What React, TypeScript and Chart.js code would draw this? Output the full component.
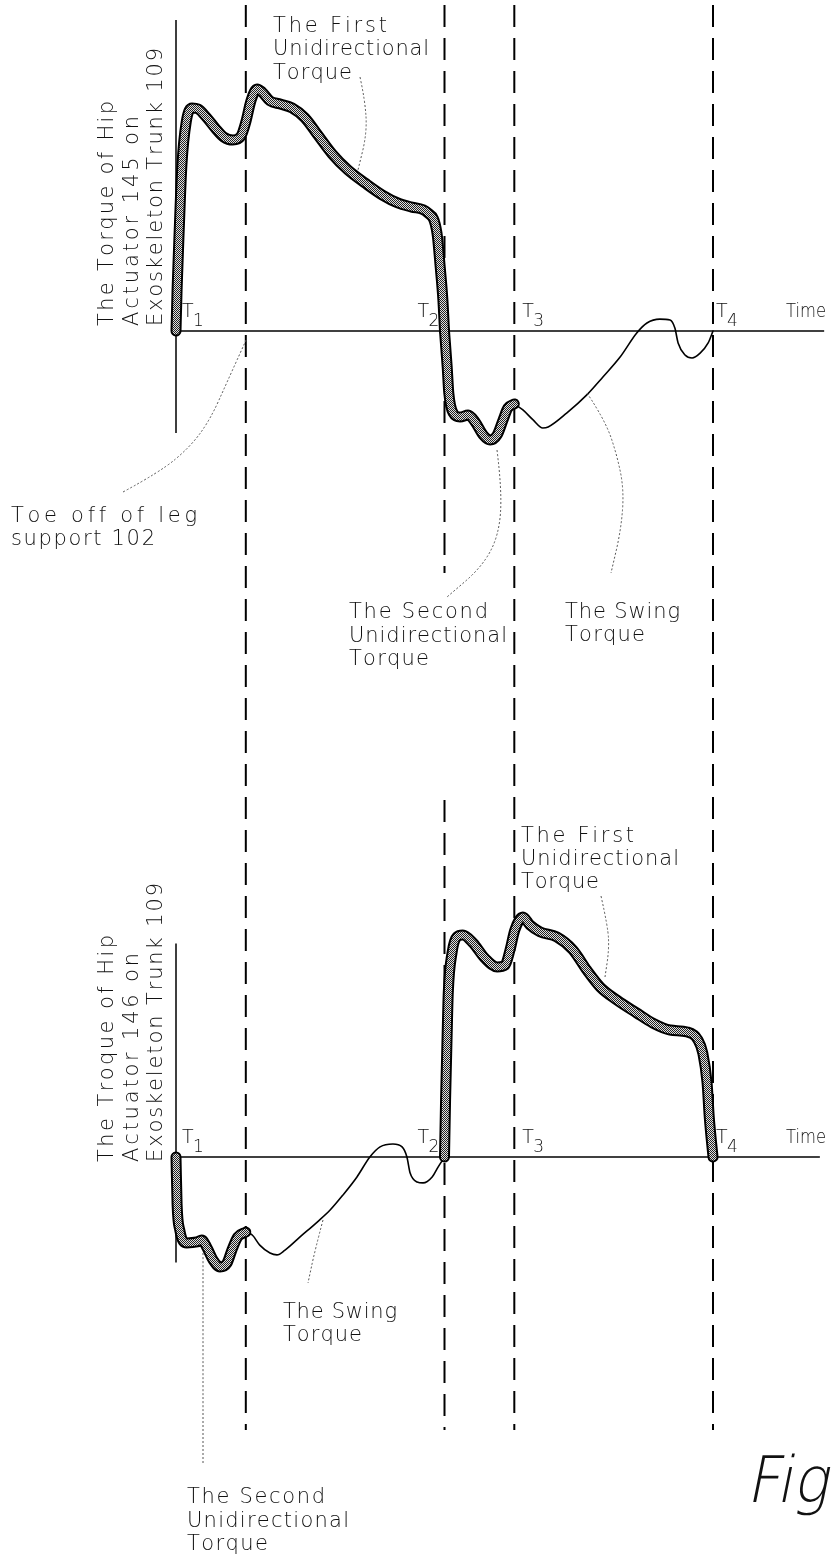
import React, { useEffect, useRef } from "react";
import { Chart, registerables } from "chart.js";

Chart.register(...registerables);

// ---------------- DATA ----------------
// time axis: percent of the gait cycle; events T1..T4 and toe off of leg support 102
const eventNames = ["T", "T", "T", "T"];
const eventSubs = ["1", "2", "3", "4"];
const eventTimes = [0, 50, 63, 100];
const toeOffTime = 13;

// top chart: torque of hip actuator 145 (normalised torque units)
const topFirstT = [0, 0.2, 0.6, 1.1, 1.9, 3.0, 4.1, 5.6, 7.3, 8.9, 10.6, 12.1, 13.0, 14.0, 15.1, 16.0, 17.5, 19.4, 21.6, 24.0, 26.4, 29.1, 32.0, 35.2, 38.4, 41.3, 43.9, 46.9, 48.6, 49.2, 49.7, 50];
const topFirstV = [0, 16.9, 41.6, 68.3, 86.0, 91.8, 91.4, 88.1, 83.5, 79.8, 78.6, 80.2, 86.0, 95.1, 99.6, 98.4, 94.7, 93.4, 91.8, 87.7, 80.7, 72.8, 66.3, 60.9, 56.0, 52.7, 51.0, 48.6, 40.3, 26.3, 12.8, 0];
const topSecondT = [50, 50.5, 50.8, 51.6, 52.9, 54.4, 55.7, 57.2, 58.5, 59.8, 60.9, 61.8, 63];
const topSecondV = [0, -14.8, -25.5, -33.7, -35.4, -34.6, -37.4, -42.8, -44.9, -42.8, -36.6, -31.7, -30.0];
const topSwingT = [63, 64.6, 66.5, 68.3, 69.3, 72.8, 76.5, 79.5, 82.7, 85.8, 87.7, 90.1, 92.0, 92.9, 93.5, 94.8, 96.1, 97.6, 99.1, 100];
const topSwingV = [-30.0, -32.5, -36.6, -39.9, -39.5, -33.7, -26.3, -18.9, -10.7, -0.8, 3.3, 4.9, 4.5, 1.2, -4.9, -9.9, -11.1, -9.1, -4.9, 0];

// bottom chart: torque of hip actuator 146
const botSecondT = [0, 0.2, 0.7, 2.0, 3.9, 4.8, 5.8, 6.9, 8.2, 9.5, 10.4, 11.5, 13.0];
const botSecondV = [0, -19.6, -30.4, -35.8, -35.4, -34.6, -37.9, -42.9, -45.8, -44.2, -38.8, -33.3, -31.3];
const botSwingT = [13.0, 14.2, 15.6, 17.5, 18.8, 20.3, 23.1, 26.3, 28.7, 31.1, 33.7, 36.1, 38.0, 40.4, 42.1, 43.0, 43.6, 44.9, 46.0, 47.7, 48.8, 50];
const botSwingV = [-31.3, -32.5, -36.7, -40.0, -40.8, -38.8, -33.3, -27.1, -22.1, -15.8, -8.3, 0, 4.2, 5.4, 4.2, 0, -6.7, -10.4, -10.8, -8.3, -4.2, 0];
const botFirstT = [50, 50.2, 50.5, 50.7, 51.4, 52.3, 53.4, 55.3, 57.5, 59.8, 61.3, 62.2, 63.1, 64.6, 65.9, 67.8, 70.9, 73.9, 76.5, 79.0, 82.1, 85.8, 88.8, 92.0, 95.2, 97.2, 98.1, 98.9, 99.3, 100];
const botFirstV = [0, 23.8, 51.7, 68.3, 85.0, 91.7, 92.5, 89.2, 82.9, 79.2, 80.0, 86.3, 94.6, 100, 96.7, 93.8, 91.7, 86.3, 77.9, 70.8, 65.4, 60.0, 55.8, 52.9, 52.1, 48.8, 43.3, 30.8, 16.7, 0];

// axis extents (data units)
const topAxisRange = [-42, 128];
const botAxisRange = [-44, 89];
const timeAxisEndTop = 120.7;
const timeAxisEndBot = 119.9;

// texts
const topYTitle = ["The Torque of Hip", "Actuator 145 on", "Exoskeleton Trunk 109"];
const botYTitle = ["The Troque of Hip", "Actuator 146 on", "Exoskeleton Trunk 109"];
const firstLabel = ["The First", "Unidirectional", "Torque"];
const secondLabel = ["The Second", "Unidirectional", "Torque"];
const swingLabel = ["The Swing", "Torque"];
const toeOffLabel = ["Toe off of leg", "support 102"];
const timeLabel = "Time";
const figLabel = "Fig";

// ---------------- LAYOUT ----------------
const W = 832;
const H = 1560;
const X0 = 176;
const PX_T = 5.37;
const TOP_ZERO = 331;
const TOP_PX_V = 2.43;
const BOT_ZERO = 1157;
const BOT_PX_V = 2.4;
const DASH_TOP = 5;
const DASH_BOTTOM = 1430;
const T2_GAP = [573, 800];
const TEXT_COLOR = "#111";
const FONT_FAMILY = '"DejaVu Sans", sans-serif';
const FONT_WEIGHT = "200";

const textBlocks = [
  { lines: firstLabel, x: 273, y: [32, 55, 79], w: [114, 156, 79] },
  { lines: toeOffLabel, x: 11, y: [522, 545], w: [186, 144] },
  { lines: secondLabel, x: 349, y: [618, 642, 665], w: [139, 158, 80] },
  { lines: swingLabel, x: 565, y: [618, 641], w: [115, 80] },
  { lines: firstLabel, x: 521, y: [842, 865, 888], w: [113, 158, 78] },
  { lines: swingLabel, x: 283, y: [1318, 1341], w: [114, 79] },
  { lines: secondLabel, x: 187, y: [1503, 1527, 1550], w: [138, 162, 81] },
];

const yTitles = [
  { lines: topYTitle, x: [113, 138, 162], y0: 326, w: [225, 210, 278] },
  { lines: botYTitle, x: [113, 138, 162], y0: 1162, w: [227, 209, 279] },
];

const leaders = [
  [[360, 77], [365, 100], [367, 133], [358, 170]],
  [[123, 492], [160, 472], [190, 447], [210, 420], [228, 380], [247, 338]],
  [[497, 450], [502, 490], [499, 535], [482, 567], [447, 597]],
  [[587, 393], [605, 420], [617, 455], [624, 490], [621, 530], [611, 573]],
  [[601, 896], [608, 927], [609, 950], [605, 977]],
  [[323, 1220], [315, 1250], [308, 1283]],
  [[203, 1253], [203, 1360], [203, 1465]],
];

const tOffsets = [6, -27, 8, 3];

const pts = (ts: number[], vs: number[]) => ts.map((t, i) => ({ x: t, y: vs[i] }));

function fitText(ctx: CanvasRenderingContext2D, text: string, x: number, y: number, width: number) {
  const chars = Array.from(text);
  const widths = chars.map((c) => ctx.measureText(c).width);
  const natural = widths.reduce((a, b) => a + b, 0);
  const ls = chars.length > 1 ? (width - natural) / (chars.length - 1) : 0;
  if (ls < 0) {
    ctx.fillText(text, x, y, width);
    return;
  }
  let cx = x;
  chars.forEach((c, i) => {
    ctx.fillText(c, cx, y);
    cx += widths[i] + ls;
  });
}

function smoothPath(ctx: CanvasRenderingContext2D, p: number[][]) {
  ctx.beginPath();
  ctx.moveTo(p[0][0], p[0][1]);
  for (let i = 1; i < p.length - 1; i++) {
    const mx = (p[i][0] + p[i + 1][0]) / 2;
    const my = (p[i][1] + p[i + 1][1]) / 2;
    ctx.quadraticCurveTo(p[i][0], p[i][1], mx, my);
  }
  const l = p[p.length - 1];
  ctx.lineTo(l[0], l[1]);
  ctx.stroke();
}

export default function App() {
  const ref = useRef<HTMLCanvasElement | null>(null);

  useEffect(() => {
    const canvas = ref.current;
    if (!canvas) return;
    const ctx0 = canvas.getContext("2d")!;

    const pc = document.createElement("canvas");
    pc.width = 2;
    pc.height = 2;
    const pctx = pc.getContext("2d")!;
    pctx.fillStyle = "#222";
    pctx.fillRect(0, 0, 2, 2);
    pctx.fillStyle = "#e0e0e0";
    pctx.fillRect(1, 0, 1, 1);
    pctx.fillRect(0, 1, 1, 1);
    const pattern = ctx0.createPattern(pc, "repeat")!;

    const base = {
      pointRadius: 0,
      fill: false,
      cubicInterpolationMode: "monotone",
      borderCapStyle: "round",
      borderJoinStyle: "round",
    };
    const thin = (data: any[], yAxisID: string) => ({ ...base, data, yAxisID, order: 8, borderColor: "#000", borderWidth: 1.6 });
    const thickOuter = (data: any[], yAxisID: string) => ({ ...base, data, yAxisID, order: 5, borderColor: "#000", borderWidth: 11 });
    const thickInner = (data: any[], yAxisID: string) => ({ ...base, data, yAxisID, order: 1, borderColor: pattern, borderWidth: 7 });
    const lineAxis = (data: any[], yAxisID: string) => ({
      data,
      yAxisID,
      order: 20,
      borderColor: "#000",
      borderWidth: 1.5,
      pointRadius: 0,
      fill: false,
      tension: 0,
    });

    const topFirst = pts(topFirstT, topFirstV);
    const topSecond = pts(topSecondT, topSecondV);
    const topSwing = pts(topSwingT, topSwingV);
    const botSecond = pts(botSecondT, botSecondV);
    const botSwing = pts(botSwingT, botSwingV);
    const botFirst = pts(botFirstT, botFirstV);

    const eventLines = [toeOffTime, eventTimes[1], eventTimes[2], eventTimes[3]];

    const decorPlugin = {
      id: "decor",
      beforeDatasetsDraw(chart: any) {
        const ctx: CanvasRenderingContext2D = chart.ctx;
        const xs = chart.scales.x;
        ctx.save();
        ctx.strokeStyle = "#000";
        ctx.lineWidth = 2;
        ctx.setLineDash([22, 11]);
        eventLines.forEach((t) => {
          const px = xs.getPixelForValue(t);
          const segs =
            t === eventTimes[1]
              ? [
                  [DASH_TOP, T2_GAP[0]],
                  [T2_GAP[1], DASH_BOTTOM],
                ]
              : [[DASH_TOP, DASH_BOTTOM]];
          segs.forEach(([a, b]) => {
            ctx.beginPath();
            ctx.moveTo(px, a);
            ctx.lineTo(px, b);
            ctx.stroke();
          });
        });
        ctx.restore();
      },
      afterDatasetsDraw(chart: any) {
        const ctx: CanvasRenderingContext2D = chart.ctx;
        const xs = chart.scales.x;
        const yT = chart.scales.yTop;
        const yB = chart.scales.yBot;
        ctx.save();

        // leaders
        ctx.strokeStyle = "#555";
        ctx.lineWidth = 1;
        ctx.setLineDash([2, 2]);
        leaders.forEach((l) => smoothPath(ctx, l));
        ctx.setLineDash([]);

        ctx.fillStyle = TEXT_COLOR;
        ctx.textBaseline = "alphabetic";
        ctx.textAlign = "left";

        // text blocks
        ctx.font = `${FONT_WEIGHT} 21px ${FONT_FAMILY}`;
        textBlocks.forEach((b) => {
          b.lines.forEach((s, i) => fitText(ctx, s, b.x, b.y[i], b.w[i]));
        });

        // rotated y titles
        yTitles.forEach((b) => {
          b.lines.forEach((s, i) => {
            ctx.save();
            ctx.translate(b.x[i], b.y0);
            ctx.rotate(-Math.PI / 2);
            fitText(ctx, s, 0, 0, b.w[i]);
            ctx.restore();
          });
        });

        // event labels and "Time"
        [yT.getPixelForValue(0), yB.getPixelForValue(0)].forEach((zy) => {
          eventTimes.forEach((t, i) => {
            const px = xs.getPixelForValue(t) + tOffsets[i];
            ctx.font = `${FONT_WEIGHT} 19px ${FONT_FAMILY}`;
            ctx.fillText(eventNames[i], px, zy - 14);
            ctx.font = `${FONT_WEIGHT} 17px ${FONT_FAMILY}`;
            ctx.fillText(eventSubs[i], px + 11, zy - 5);
          });
          ctx.font = `${FONT_WEIGHT} 20px ${FONT_FAMILY}`;
          fitText(ctx, timeLabel, 786, zy - 14, 40);
        });

        // Fig (thin, slanted)
        ctx.save();
        ctx.font = `${FONT_WEIGHT} 64px ${FONT_FAMILY}`;
        ctx.translate(0, 1502);
        ctx.transform(1, 0, -0.2, 1, 0, 0);
        fitText(ctx, figLabel, 746, 0, 82);
        ctx.restore();

        ctx.restore();
      },
    };

    const chart = new Chart(canvas, {
      type: "line",
      data: {
        datasets: [
          thickInner(topFirst, "yTop"),
          thickInner(topSecond, "yTop"),
          thickInner(botSecond, "yBot"),
          thickInner(botFirst, "yBot"),
          thickOuter(topFirst, "yTop"),
          thickOuter(topSecond, "yTop"),
          thickOuter(botSecond, "yBot"),
          thickOuter(botFirst, "yBot"),
          thin(topSwing, "yTop"),
          thin(botSwing, "yBot"),
          lineAxis([{ x: 0, y: topAxisRange[1] }, { x: 0, y: topAxisRange[0] }], "yTop"),
          lineAxis([{ x: 0, y: 0 }, { x: timeAxisEndTop, y: 0 }], "yTop"),
          lineAxis([{ x: 0, y: botAxisRange[1] }, { x: 0, y: botAxisRange[0] }], "yBot"),
          lineAxis([{ x: 0, y: 0 }, { x: timeAxisEndBot, y: 0 }], "yBot"),
        ] as any,
      },
      options: {
        animation: false,
        responsive: false,
        devicePixelRatio: window.devicePixelRatio || 1,
        layout: { padding: 0 },
        plugins: { legend: { display: false }, tooltip: { enabled: false }, title: { display: false } },
        events: [],
        scales: {
          x: { type: "linear", min: -X0 / PX_T, max: (W - X0) / PX_T, display: false },
          yTop: { type: "linear", position: "left", min: (TOP_ZERO - H) / TOP_PX_V, max: TOP_ZERO / TOP_PX_V, display: false },
          yBot: { type: "linear", position: "left", min: (BOT_ZERO - H) / BOT_PX_V, max: BOT_ZERO / BOT_PX_V, display: false },
        },
      } as any,
      plugins: [decorPlugin],
    });

    return () => chart.destroy();
  }, []);

  return (
    <div style={{ position: "absolute", left: 0, top: 0, width: W, height: H, background: "#fff" }}>
      <canvas ref={ref} width={W} height={H} style={{ display: "block", width: W, height: H }} />
    </div>
  );
}
